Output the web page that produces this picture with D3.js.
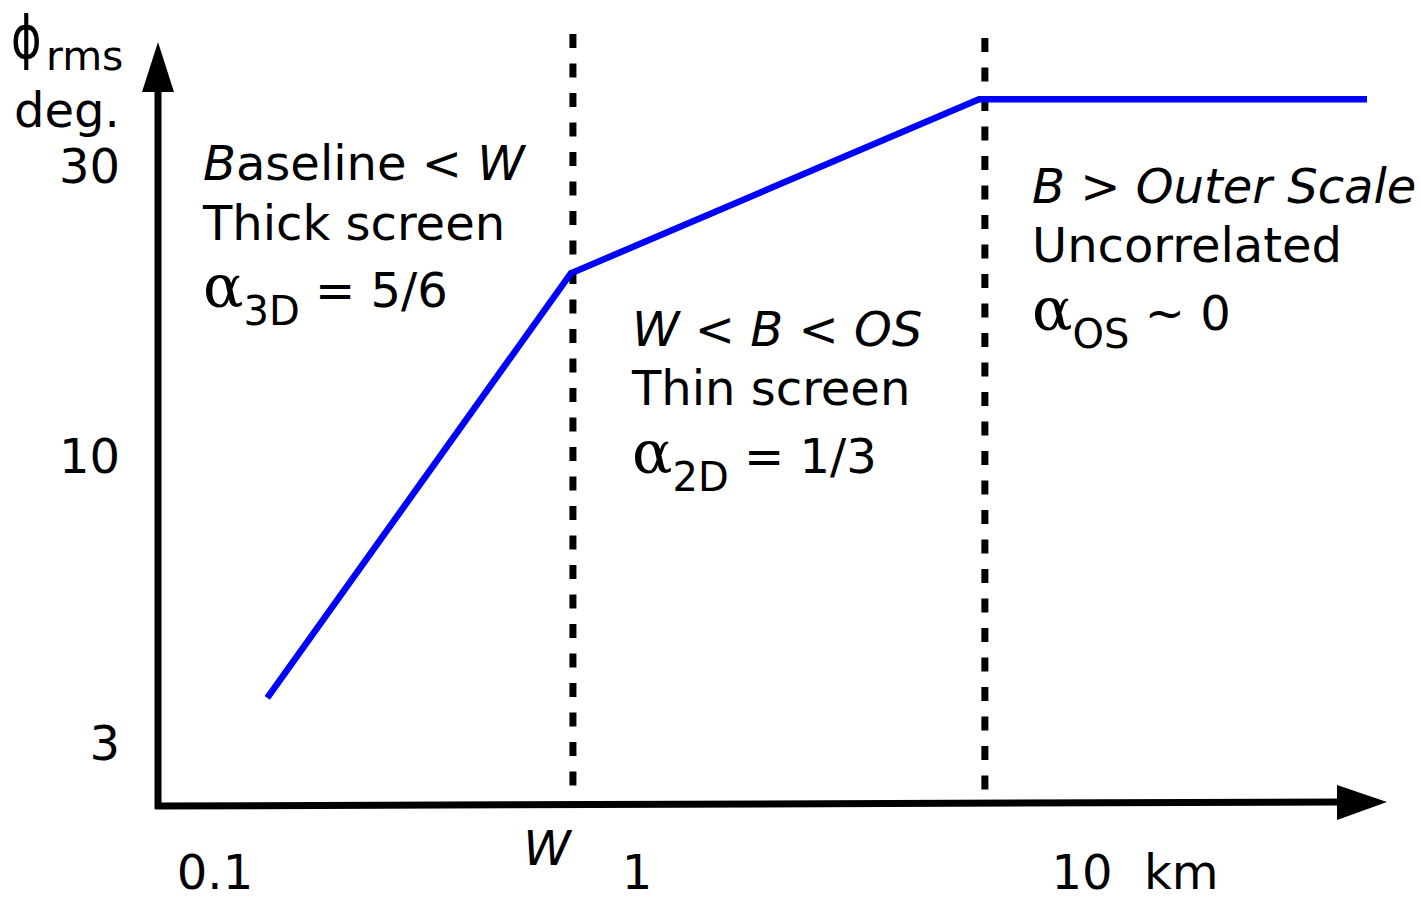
<!DOCTYPE html>
<html>
<head>
<meta charset="utf-8">
<script src="https://cdn.jsdelivr.net/npm/d3@7"></script>
<style>
  html, body { margin: 0; padding: 0; background: #fff; }
  svg text { font-family: "DejaVu Sans", sans-serif; fill: #000; }
</style>
</head>
<body>
<div id="chart"></div>
<script>
// baseline (km) vs phase rms (deg), schematic log-log
const xTicks = [0.1, 1, 10];
const xTickLabels = ["0.1", "1", "10"];
const yTicks = [3, 10, 30];
const yTickLabels = ["3", "10", "30"];
const baselineKm = [0.133, 0.697, 5.87, 43.7];
const phaseRms = [3.61, 19.9, 38.5, 38.5];
const breakNames = ["W", "OS"];
const breakKm = [0.705, 6.05];

const width = 1421, height = 902;
const axisX = 158, axisY = 806;

const svg = d3.select("#chart").append("svg")
    .attr("width", width)
    .attr("height", height);

// piecewise log scales, the sketch is not quite uniform
const x = d3.scaleLog().domain(xTicks).range([215, 637, 1082]);
const y = d3.scaleLog().domain(yTicks).range([742, 455, 165]);

// vertical dashed break lines
svg.selectAll(".breakLine")
    .data(breakKm)
    .join("line")
    .attr("class", "breakLine")
    .attr("x1", d => x(d)).attr("x2", d => x(d))
    .attr("y1", (d, i) => i === 0 ? 34 : 38)
    .attr("y2", 800)
    .attr("stroke", "#000")
    .attr("stroke-width", 7)
    .attr("stroke-dasharray", "14,15.5");

// axes with arrowheads
svg.append("line")
    .attr("x1", axisX).attr("y1", axisY + 3)
    .attr("x2", axisX).attr("y2", 88)
    .attr("stroke", "#000").attr("stroke-width", 7);
svg.append("path")
    .attr("d", `M${axisX},42 L${axisX - 16},92 L${axisX + 16},92 Z`)
    .attr("fill", "#000");
svg.append("line")
    .attr("x1", axisX - 3).attr("y1", axisY)
    .attr("x2", 1342).attr("y2", 802)
    .attr("stroke", "#000").attr("stroke-width", 7);
svg.append("path")
    .attr("d", "M1387,802 L1337,785 L1337,820 Z")
    .attr("fill", "#000");

// phase structure function
const line = d3.line()
    .x(d => x(d[0]))
    .y(d => y(d[1]));
svg.append("path")
    .datum(d3.zip(baselineKm, phaseRms))
    .attr("d", line)
    .attr("fill", "none")
    .attr("stroke", "#0000ff")
    .attr("stroke-width", 6.5)
    .attr("stroke-linejoin", "miter");

// tick labels
svg.selectAll(".yTick")
    .data(yTicks)
    .join("text")
    .attr("class", "yTick")
    .attr("x", 120)
    .attr("y", d => y(d) + 18)
    .attr("text-anchor", "end")
    .attr("font-size", 48)
    .text((d, i) => yTickLabels[i]);

svg.selectAll(".xTick")
    .data(xTicks)
    .join("text")
    .attr("class", "xTick")
    .attr("x", d => x(d))
    .attr("y", 889)
    .attr("text-anchor", "middle")
    .attr("font-size", 48)
    .text((d, i) => xTickLabels[i]);

svg.append("text")
    .attr("x", x(10) + 62).attr("y", 889)
    .attr("font-size", 48)
    .text("km");

svg.append("text")
    .attr("x", x(breakKm[0]) - 26).attr("y", 865)
    .attr("text-anchor", "middle")
    .attr("font-size", 48)
    .attr("font-style", "italic")
    .text(breakNames[0]);

// y axis title
svg.append("text")
    .attr("transform", "translate(11,58) scale(0.8,1)")
    .attr("font-size", 58)
    .attr("font-family", "DejaVu Serif")
    .text("\u03D5");
svg.append("text")
    .attr("x", 46).attr("y", 70)
    .attr("font-size", 41)
    .text("rms");
svg.append("text")
    .attr("x", 14).attr("y", 127)
    .attr("font-size", 48)
    .text("deg.");

// region annotations
function addLine(xPos, yPos, parts) {
    const t = svg.append("text").attr("x", xPos).attr("y", yPos).attr("font-size", 48);
    parts.forEach(p => {
        t.append("tspan")
            .attr("font-style", p.italic ? "italic" : "normal")
            .text(p.s);
    });
}
function addAlpha(xPos, yPos, sub, rest) {
    const t = svg.append("text").attr("x", xPos).attr("y", yPos).attr("font-size", 48);
    t.append("tspan").attr("font-size", 60).attr("font-family", "DejaVu Serif").text("\u03B1");
    t.append("tspan").attr("font-size", 40).attr("dy", 18).text(sub);
    t.append("tspan").attr("dy", -18).text(rest);
}

addLine(203, 180, [{s: "B", italic: true}, {s: "aseline < "}, {s: "W", italic: true}]);
addLine(203, 240, [{s: "Thick screen"}]);
addAlpha(203, 307, "3D", " = 5/6");

addLine(632, 346, [{s: "W", italic: true}, {s: " < "}, {s: "B", italic: true}, {s: " < "}, {s: "OS", italic: true}]);
addLine(632, 405, [{s: "Thin screen"}]);
addAlpha(632, 473, "2D", " = 1/3");

addLine(1032, 203, [{s: "B", italic: true}, {s: " > "}, {s: "Outer Scale", italic: true}]);
addLine(1032, 262, [{s: "Uncorrelated"}]);
addAlpha(1032, 330, "OS", " ~ 0");
</script>
</body>
</html>
